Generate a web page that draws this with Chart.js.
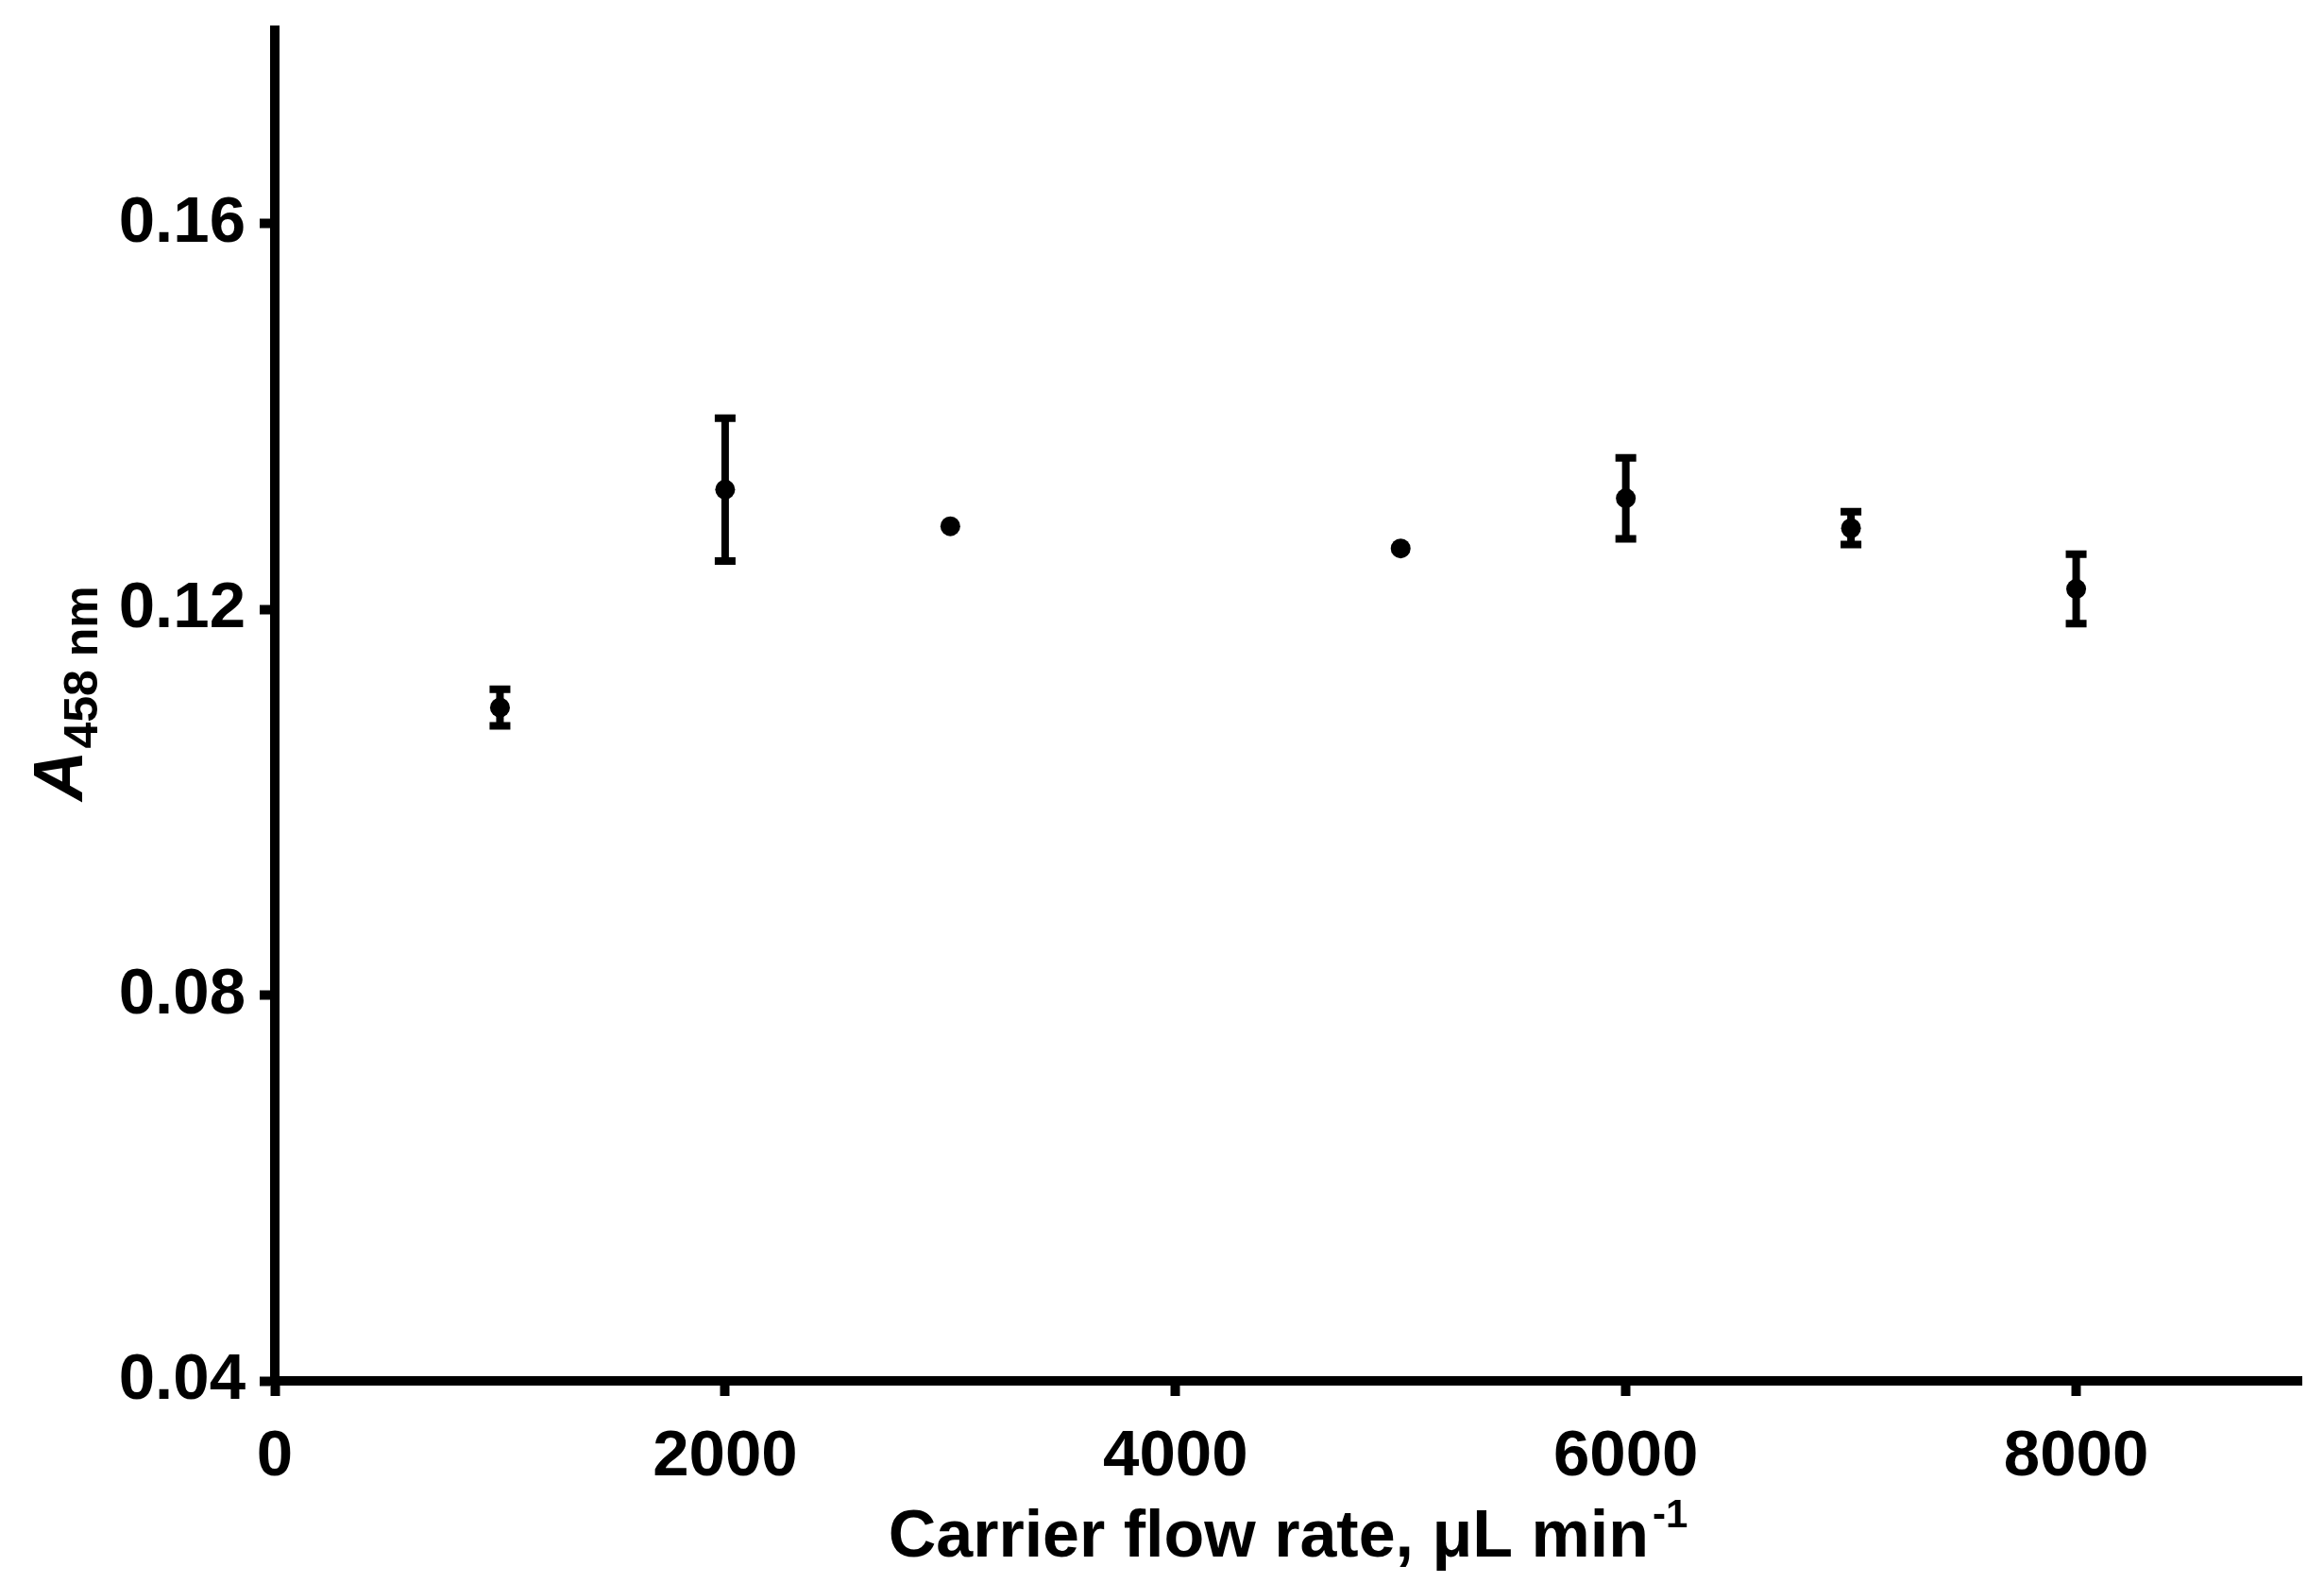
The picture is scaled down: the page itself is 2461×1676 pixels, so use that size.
<!DOCTYPE html>
<html><head><meta charset="utf-8">
<script src="https://cdn.jsdelivr.net/npm/chart.js@4.4.0/dist/chart.umd.min.js"></script>
<style>html,body{margin:0;padding:0;background:#fff;}#wrap{width:2461px;height:1676px;}</style>
</head><body><div id="wrap"><canvas id="c" width="2461" height="1676"></canvas></div>
<script>
const flowRates = [1000, 2000, 3000, 5000, 6000, 7000, 8000];
const absorbance = [0.1098, 0.1324, 0.1286, 0.1263, 0.1315, 0.1284, 0.1221];
const errors = [0.0019, 0.0074, 0, 0, 0.0042, 0.0017, 0.0036];
const xTicks = [0, 2000, 4000, 6000, 8000];
const yTicks = [0.04, 0.08, 0.12, 0.16];
const xTitle = 'Carrier flow rate, \u03BCL min';
const xTitleSup = '-1';
const yTitleMain = 'A';
const yTitleSub = '458 nm';

const FONT = '"Liberation Sans", Arial, Helvetica, sans-serif';

const errorBarPlugin = {
  id: 'errorBars',
  beforeDatasetsDraw(chart) {
    const ctx = chart.ctx, xs = chart.scales.x, ys = chart.scales.y;
    ctx.save();
    ctx.strokeStyle = '#000';
    ctx.lineWidth = 8;
    ctx.lineCap = 'butt';
    flowRates.forEach((fx, i) => {
      const e = errors[i];
      if (!e) return;
      const px = xs.getPixelForValue(fx);
      const pTop = ys.getPixelForValue(absorbance[i] + e);
      const pBot = ys.getPixelForValue(absorbance[i] - e);
      ctx.beginPath();
      ctx.moveTo(px, pTop); ctx.lineTo(px, pBot);
      ctx.moveTo(px - 11, pTop); ctx.lineTo(px + 11, pTop);
      ctx.moveTo(px - 11, pBot); ctx.lineTo(px + 11, pBot);
      ctx.stroke();
    });
    ctx.restore();
  }
};

const titlePlugin = {
  id: 'axisTitles',
  afterDraw(chart) {
    const ctx = chart.ctx, a = chart.chartArea;
    ctx.save();
    ctx.fillStyle = '#000';
    ctx.textBaseline = 'alphabetic';
    ctx.textAlign = 'left';
    // x title
    const mainFont = 'bold 70px ' + FONT;
    const supFont = 'bold 42px ' + FONT;
    ctx.font = mainFont;
    const w1 = ctx.measureText(xTitle).width;
    ctx.font = supFont;
    const w2 = ctx.measureText(xTitleSup).width;
    const cx = (a.left + a.right) / 2;
    const x0 = cx - (w1 + w2 + 4) / 2;
    const by = a.bottom + 186;
    ctx.font = mainFont;
    ctx.fillText(xTitle, x0, by);
    ctx.font = supFont;
    ctx.fillText(xTitleSup, x0 + w1 + 4, by - 31);
    // y title
    const aFont = 'italic bold 74px ' + FONT;
    const subFont = 'bold 50px ' + FONT;
    ctx.font = aFont;
    const wa = ctx.measureText(yTitleMain).width;
    ctx.font = subFont;
    const ws = ctx.measureText(yTitleSub).width;
    ctx.translate(a.left - 204, (a.top + a.bottom) / 2 - 12);
    ctx.rotate(-Math.PI / 2);
    const start = -(wa + ws) / 2;
    ctx.font = aFont;
    ctx.fillText(yTitleMain, start, 0);
    ctx.font = subFont;
    ctx.fillText(yTitleSub, start + wa + 2, 16);
    ctx.restore();
  }
};

const xTickFont = { family: FONT, size: 69, weight: 'bold' };
const yTickFont = { family: FONT, size: 69, weight: 'bold', lineHeight: 0.5 };

new Chart(document.getElementById('c'), {
  type: 'scatter',
  data: {
    datasets: [{
      data: flowRates.map((x, i) => ({ x: x, y: absorbance[i] })),
      backgroundColor: '#000',
      borderColor: '#000',
      pointRadius: 10.5,
      pointHoverRadius: 10.5,
      borderWidth: 0
    }]
  },
  plugins: [errorBarPlugin, titlePlugin],
  options: {
    responsive: false,
    animation: false,
    devicePixelRatio: 1,
    layout: { padding: { top: 28, right: 24, left: 0, bottom: 0 } },
    plugins: { legend: { display: false }, tooltip: { enabled: false } },
    scales: {
      x: {
        type: 'linear', min: 0, max: 9000,
        afterBuildTicks: s => { s.ticks = xTicks.map(v => ({ value: v })); },
        afterFit: s => { s.height = 214; },
        ticks: { font: xTickFont, color: '#000', padding: 24, maxRotation: 0, callback: v => String(v) },
        grid: { display: true, drawOnChartArea: false, drawTicks: true, tickLength: 16, tickWidth: 10, tickColor: '#000', color: '#000' },
        border: { display: true, width: 10, color: '#000' }
      },
      y: {
        type: 'linear', min: 0.04, max: 0.18,
        afterBuildTicks: s => { s.ticks = yTicks.map(v => ({ value: v })); },
        afterFit: s => { s.width = 291; },
        ticks: { font: yTickFont, color: '#000', padding: 15, callback: v => v.toFixed(2) },
        grid: { display: true, drawOnChartArea: false, drawTicks: true, tickLength: 16, tickWidth: 10, tickColor: '#000', color: '#000' },
        border: { display: true, width: 10, color: '#000' }
      }
    }
  }
});
</script>
</body></html>
